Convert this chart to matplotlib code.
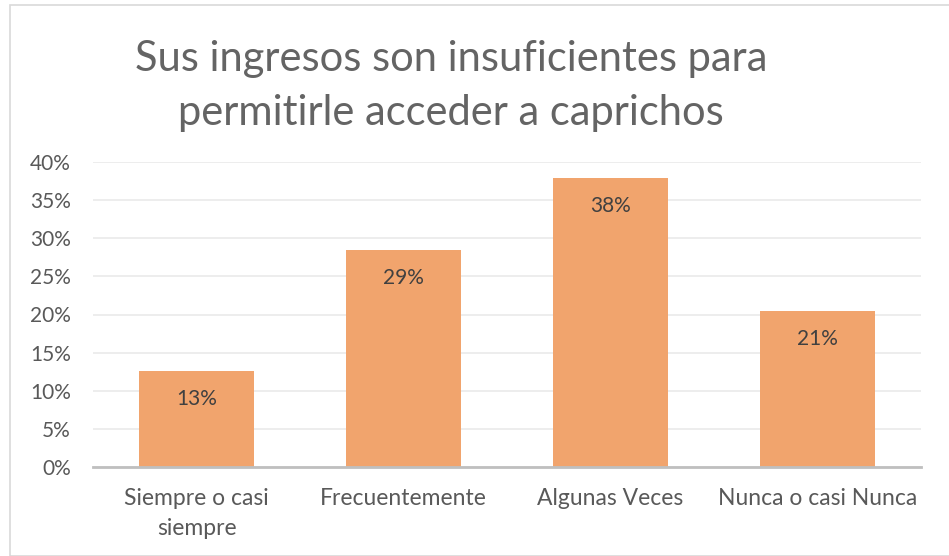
import matplotlib
matplotlib.use("Agg")
import matplotlib.pyplot as plt
from matplotlib.ticker import PercentFormatter
from matplotlib.patches import Rectangle

categories = ["Siempre o casi\nsiempre", "Frecuentemente", "Algunas Veces", "Nunca o casi Nunca"]
values = [0.126, 0.285, 0.379, 0.205]
labels = ["13%", "29%", "38%", "21%"]
yticks = [0, 0.05, 0.10, 0.15, 0.20, 0.25, 0.30, 0.35, 0.40]

plt.rcParams['font.family'] = ['Lato', 'DejaVu Sans']

W, H = 949, 556
fig = plt.figure(figsize=(W/100, H/100), dpi=100)
fig.patches.append(Rectangle((10/W, 0), 1.2, (H-5)/H, transform=fig.transFigure,
                             fill=False, edgecolor='#D9D9D9', linewidth=1.2))

ax = fig.add_axes([93/W, (H-467)/H, 828/W, 305/H])
x = range(len(categories))
ax.bar(x, values, width=0.558, color='#F1A46D', zorder=2)
for xi, v, lab in zip(x, values, labels):
    ax.annotate(lab, (xi, v), xytext=(0, -28), textcoords='offset pixels',
                ha='center', va='center', fontsize=15, color='#404040')

ax.set_xlim(-0.5, 3.5)
ax.set_ylim(0, 0.40)
ax.set_yticks(yticks)
ax.yaxis.set_major_formatter(PercentFormatter(1.0, decimals=0))
ax.grid(axis='y', color='#EAEAEA', linewidth=1.2, zorder=0)
for s in ['top', 'right', 'left']:
    ax.spines[s].set_visible(False)
ax.spines['bottom'].set_color('#BFBFBF')
ax.spines['bottom'].set_linewidth(2)
ax.spines['bottom'].set_zorder(3)
ax.set_xticks(list(x))
ax.set_xticklabels(categories, fontsize=16.5, color='#595959', linespacing=1.55)
ax.tick_params(axis='x', length=0, pad=15)
ax.tick_params(axis='y', length=0, labelsize=15, labelcolor='#595959', pad=16)

fig.text(451/W, (H-86)/H, "Sus ingresos son insuficientes para\npermitirle acceder a caprichos",
         ha='center', va='center', fontsize=30, color='#646464', linespacing=1.5)

fig.savefig("out.png", dpi=100)
